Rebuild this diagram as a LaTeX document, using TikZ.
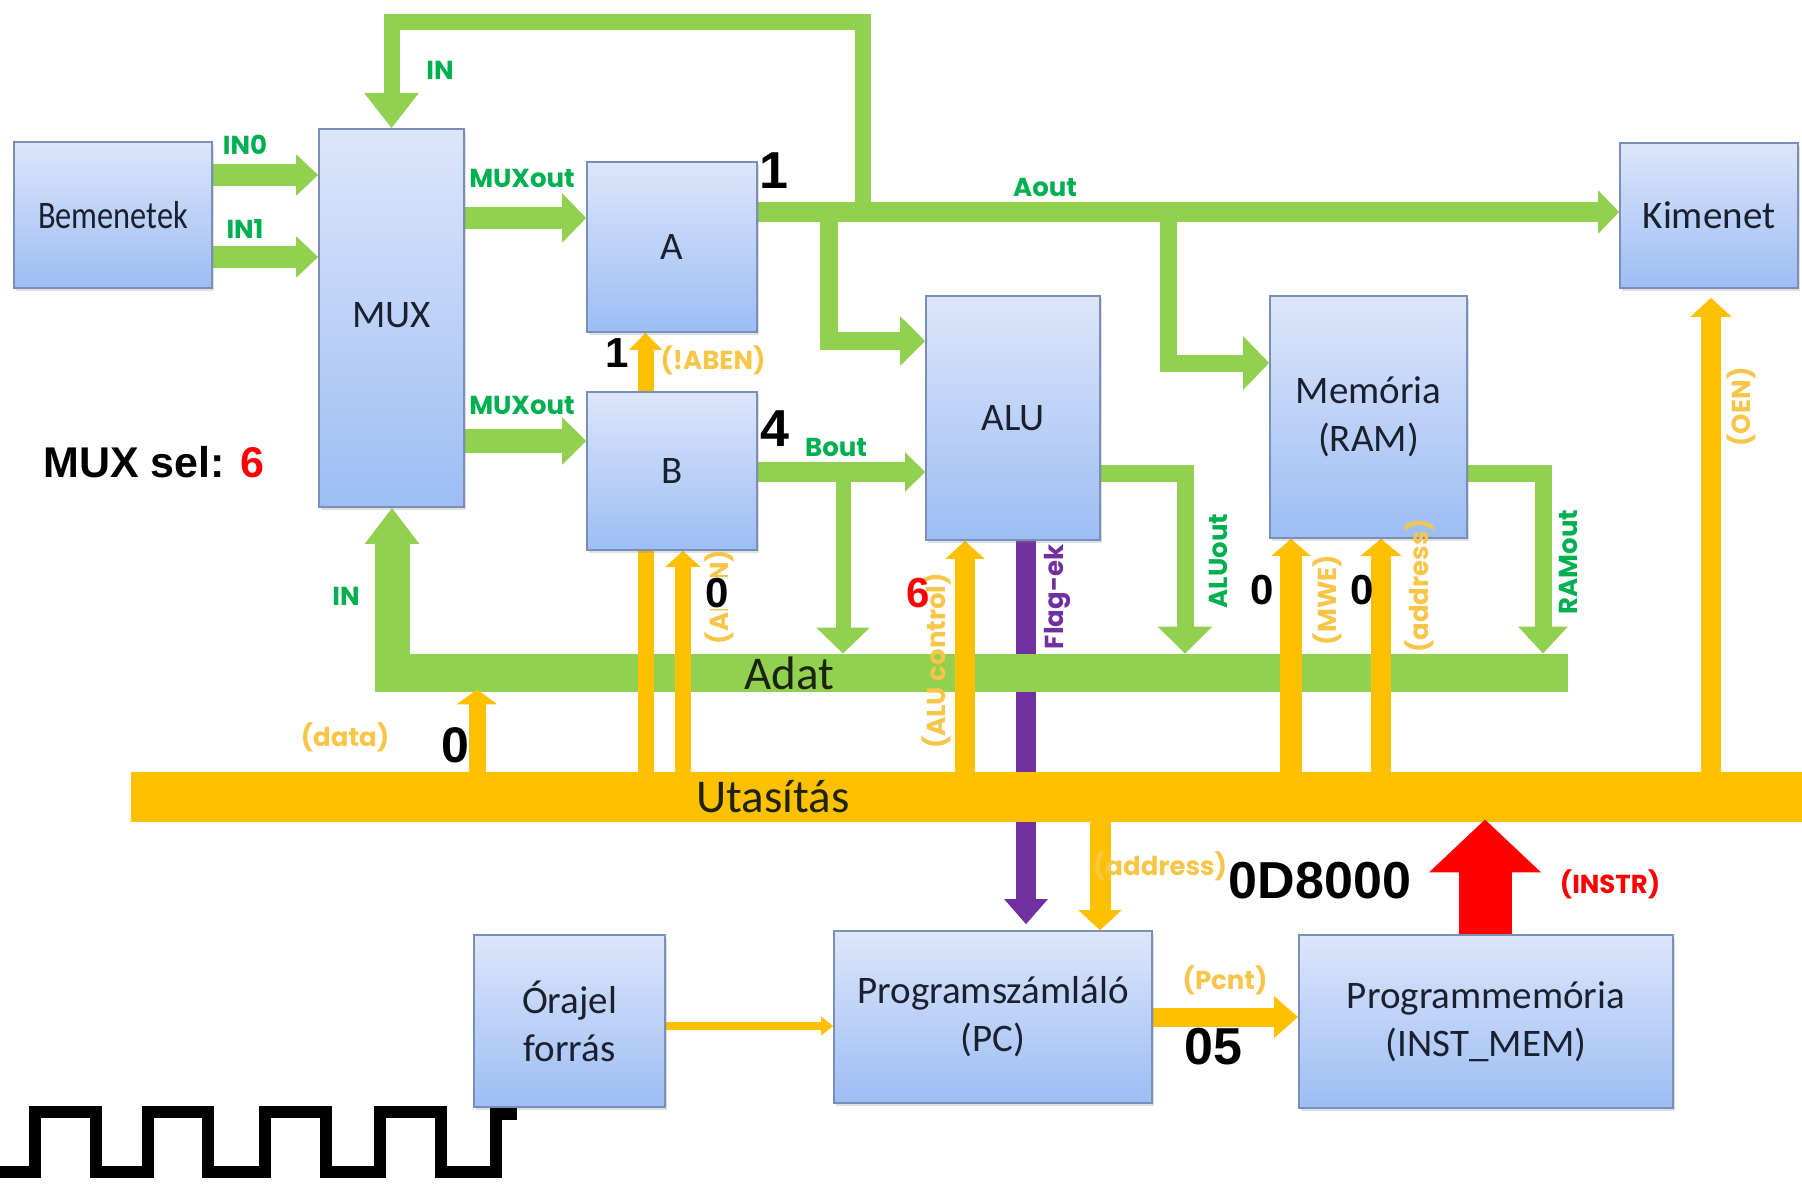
\documentclass[tikz,border=0pt]{standalone}
\usepackage{fontspec}
\setmainfont{Carlito}
\newfontfamily\lblf{Poppins}
\newfontfamily\numf{Liberation Sans}
\usetikzlibrary{arrows.meta,shadows}
\pgfdeclarelayer{lpur}\pgfdeclarelayer{lbus}\pgfdeclarelayer{lyel}\pgfdeclarelayer{lfront}
\pgfsetlayers{lpur,lbus,lyel,main,lfront}
\definecolor{gr}{HTML}{92D050}
\definecolor{glabc}{HTML}{00B050}
\definecolor{yl}{HTML}{FFC000}
\definecolor{ylabc}{HTML}{F7C548}
\definecolor{pu}{HTML}{7030A0}
\definecolor{rd}{HTML}{FF0000}
\definecolor{bxt}{HTML}{DCE6FA}
\definecolor{bxb}{HTML}{9DBDF4}
\definecolor{bxd}{HTML}{7A8FB8}
\definecolor{bxtext}{HTML}{1A2030}
\definecolor{bustext}{HTML}{1C2410}
\tikzset{
  box/.style={draw=bxd, line width=0.8pt, top color=bxt, bottom color=bxb, inner sep=0pt,
    align=center, text=bxtext, font=\fontsize{19.5}{24}\selectfont,
    drop shadow={shadow xshift=1.2pt, shadow yshift=-1.5pt, opacity=0.25}},
  arr/.style n args={4}{draw=#1, line width=#2, line join=miter, -{Triangle[width=#3,length=#4]}},
  glab/.style={text=glabc, font=\lblf\bfseries\fontsize{13}{15}\selectfont, inner sep=0pt},
  ylab/.style={text=ylabc, font=\lblf\bfseries\fontsize{13}{15}\selectfont, inner sep=0pt},
  plab/.style={text=pu, font=\lblf\bfseries\fontsize{13}{15}\selectfont, inner sep=0pt},
  rlab/.style={text=rd, font=\lblf\bfseries\fontsize{13}{15}\selectfont, inner sep=0pt},
  numbig/.style={font=\numf\bfseries\fontsize{26}{30}\selectfont, inner sep=0pt},
  numsm/.style={font=\numf\bfseries\fontsize{21}{24}\selectfont, inner sep=0pt},
  bustxt/.style={text=bustext, font=\fontsize{23.5}{28}\selectfont, inner sep=0pt},
}
\newcommand\mybox[6]{\node[box, minimum width={(#4-#2)*0.5pt}, minimum height={(#5-#3)*0.5pt}] (#1) at ({(#2+#4)/2},{(#3+#5)/2}) {#6};}
\begin{document}
\begin{tikzpicture}[x=0.5pt,y=-0.5pt]
\useasboundingbox (0,0) rectangle (1802,1183);
% boxes
\mybox{bem}{14}{142}{212}{288}{\scalebox{0.83}[1]{Bemenetek}}
\mybox{mux}{319}{129}{464}{507}{\raisebox{3.5pt}{MUX}}
\mybox{A}{587}{162}{757}{332}{A}
\mybox{B}{587}{392}{757}{550}{B}
\mybox{alu}{926}{296}{1100}{540}{ALU}
\mybox{mem}{1270}{296}{1467}{538}{Memória\\(RAM)}
\mybox{kim}{1620}{143}{1798}{288}{Kimenet}
\mybox{ora}{474}{935}{665}{1107}{Órajel\\forrás}
\mybox{pc}{834}{931}{1152}{1103}{Programszámláló\\(PC)}
\mybox{pmem}{1299}{935}{1673}{1108}{Programmemória\\(INST\_MEM)}
\coordinate (jloop) at (863,212);
\coordinate (jalu) at (829,212);
\coordinate (jmem) at (1168,212);
\coordinate (jbout) at (843,472);
% purple flags (under buses)
\begin{pgfonlayer}{lpur}
\draw[arr={pu}{10pt}{21pt}{12.5pt}, shorten >=3pt] (1026,0 |- alu.south) -- (1026,0 |- pc.north);
\end{pgfonlayer}
% green arrows and buses
\begin{pgfonlayer}{lbus}
\node[fill=gr, minimum width={1193*0.5pt}, minimum height={38*0.5pt}, inner sep=0pt] (adat) at (971.5,673) {};
\node[fill=yl, minimum width={1671*0.5pt}, minimum height={50*0.5pt}, inner sep=0pt] (utas) at (966.5,797) {};
\draw[arr={gr}{17.5pt}{26pt}{18pt}] (392,0 |- adat.south) -- (392,0 |- mux.south);
\draw[arr={gr}{11pt}{20pt}{11pt}] (bem.east |- 0,175) -- (mux.west |- 0,175);
\draw[arr={gr}{11pt}{20pt}{11pt}] (bem.east |- 0,257) -- (mux.west |- 0,257);
\draw[arr={gr}{11pt}{24pt}{12pt}] (mux.east |- 0,218) -- (A.west |- 0,218);
\draw[arr={gr}{12pt}{23pt}{12pt}] (mux.east |- 0,441) -- (B.west |- 0,441);
\draw[arr={gr}{10pt}{21pt}{10.5pt}] (A.east |- 0,212) -- (kim.west |- 0,212);
\draw[arr={gr}{8pt}{26pt}{17.5pt}] (jloop) |- (mux.north |- 0,22) -- (mux.north);
\draw[arr={gr}{9pt}{24pt}{12.5pt}] (jalu) |- (alu.west |- 0,341);
\draw[arr={gr}{8.5pt}{26pt}{13pt}] (jmem) |- (mem.west |- 0,363);
\draw[arr={gr}{10pt}{19pt}{10pt}] (B.east |- 0,472) -- (alu.west |- 0,472);
\draw[arr={gr}{7.5pt}{26pt}{13pt}] (jbout) -- (843,0 |- adat.north);
\draw[arr={gr}{8.5pt}{26.5pt}{13.5pt}] (alu.east |- 0,473) -| (1185,0 |- adat.north);
\draw[arr={gr}{8.5pt}{24pt}{13.5pt}] (mem.east |- 0,473) -| (1543,0 |- adat.north);
\end{pgfonlayer}
% yellow and red arrows
\begin{pgfonlayer}{lyel}
\draw[arr={yl}{8.5pt}{20pt}{7.5pt}, shorten >=-1.5pt] (477,0 |- utas.north) -- (477,0 |- adat.south);
\draw[arr={yl}{8pt}{16pt}{8.5pt}] (645.5,0 |- utas.north) -- (645.5,0 |- A.south);
\draw[arr={yl}{8pt}{17pt}{8pt}] (683,0 |- utas.north) -- (683,0 |- B.south);
\draw[arr={yl}{10pt}{19pt}{9pt}] (965,0 |- utas.north) -- (965,0 |- alu.south);
\draw[arr={yl}{11pt}{19pt}{8.5pt}] (1291,0 |- utas.north) -- (1291,0 |- mem.south);
\draw[arr={yl}{10pt}{20pt}{8.5pt}] (1381,0 |- utas.north) -- (1381,0 |- mem.south);
\draw[arr={yl}{10pt}{20pt}{9.5pt}, shorten >=4.5pt] (1711,0 |- utas.north) -- (1711,0 |- kim.south);
\draw[arr={yl}{10.5pt}{21pt}{10pt}] (1100,0 |- utas.south) -- (1100,0 |- pc.north);
\draw[arr={yl}{4pt}{9pt}{6pt}] (ora.east |- 0,1026) -- (pc.west |- 0,1026);
\draw[arr={yl}{9.5pt}{20pt}{12pt}] (pc.east |- 0,1017) -- (pmem.west |- 0,1017);
\draw[arr={rd}{26.5pt}{54.5pt}{26.5pt}, shorten >=-1.5pt] (1485,0 |- pmem.north) -- (1485,0 |- utas.south);
\end{pgfonlayer}
% labels
\begin{pgfonlayer}{lfront}
\node[bustxt] (tadat) at (789,673) {Adat};
\node[bustxt] (tutas) at (773,797) {Utasítás};
\node[glab] (lin1) at (440,70) {IN};
\node[glab] (lin0) at (245,145) {IN0};
\node[glab] (lin1b) at (245,229) {IN1};
\node[glab] (lmo1) at (522,178) {MUXout};
\node[glab] (lmo2) at (522,405) {MUXout};
\node[glab] (laout) at (1045,187) {Aout};
\node[glab] (lbout) at (836,447) {Bout};
\node[glab] (lin2) at (346,596) {IN};
\node[glab, rotate=90] (lalu) at (1218,561) {ALUout};
\node[glab, rotate=90] (lram) at (1568,562) {RAMout};
\node[ylab] (laben) at (713,360) {(!ABEN)};
\node[ylab, rotate=90] (laben2) at (719,597) {(ABEN)};
\node[ylab] (ldata) at (345,737) {(data)};
\node[ylab, rotate=90] (lctrl) at (936,661) {(ALU control)};
\node[ylab, rotate=90] (lmwe) at (1327,600) {(MWE)};
\node[ylab, rotate=90] (laddr) at (1419,586) {(address)};
\node[ylab, rotate=90] (loen) at (1741,407) {(OEN)};
\node[ylab] (laddr2) at (1160,866) {(address)};
\node[ylab] (lpcnt) at (1225,980) {(Pcnt)};
\node[rlab] (linstr) at (1610,884) {(INSTR)};
\node[plab, rotate=90] (lflag) at (1057,597) {Flag-ek};
% numbers
\node[numbig] (n1) at (774,171) {1};
\node[numbig] (n4) at (775,429) {4};
\node[numsm, fill=white] (n1b) at (617,353) {1};
\node[numsm, fill=white, inner sep=0.5pt] (n0a) at (717,593) {0};
\node[numsm, text=rd] (n6) at (918,593) {6};
\node[numsm] (n0b) at (1262,590) {0};
\node[numsm] (n0c) at (1362,590) {0};
\node[font=\numf\bfseries\fontsize{25}{28}\selectfont, inner sep=0pt] (n0d) at (455,745) {0};
\node[numbig] (nd8) at (1320,881) {0D8000};
\node[numbig] (n05) at (1213,1047) {05};
\node[font=\numf\bfseries\fontsize{21.5}{26}\selectfont, inner sep=0pt, anchor=west] (nsel) at (43,462) {MUX sel: \textcolor{rd}{6}};
% clock wave
\draw[line width=6pt, line join=miter] (0,1172) -- (35,1172) -- (35,1112) -- (96,1112) -- (96,1172) -- (148,1172) -- (148,1112) -- (208,1112) -- (208,1172) -- (265,1172) -- (265,1112) -- (326,1112) -- (326,1172) -- (380,1172) -- (380,1112) -- (441,1112) -- (441,1172) -- (496,1172) -- (496,1114) -- (517,1114);
\end{pgfonlayer}
\end{tikzpicture}
\end{document}
